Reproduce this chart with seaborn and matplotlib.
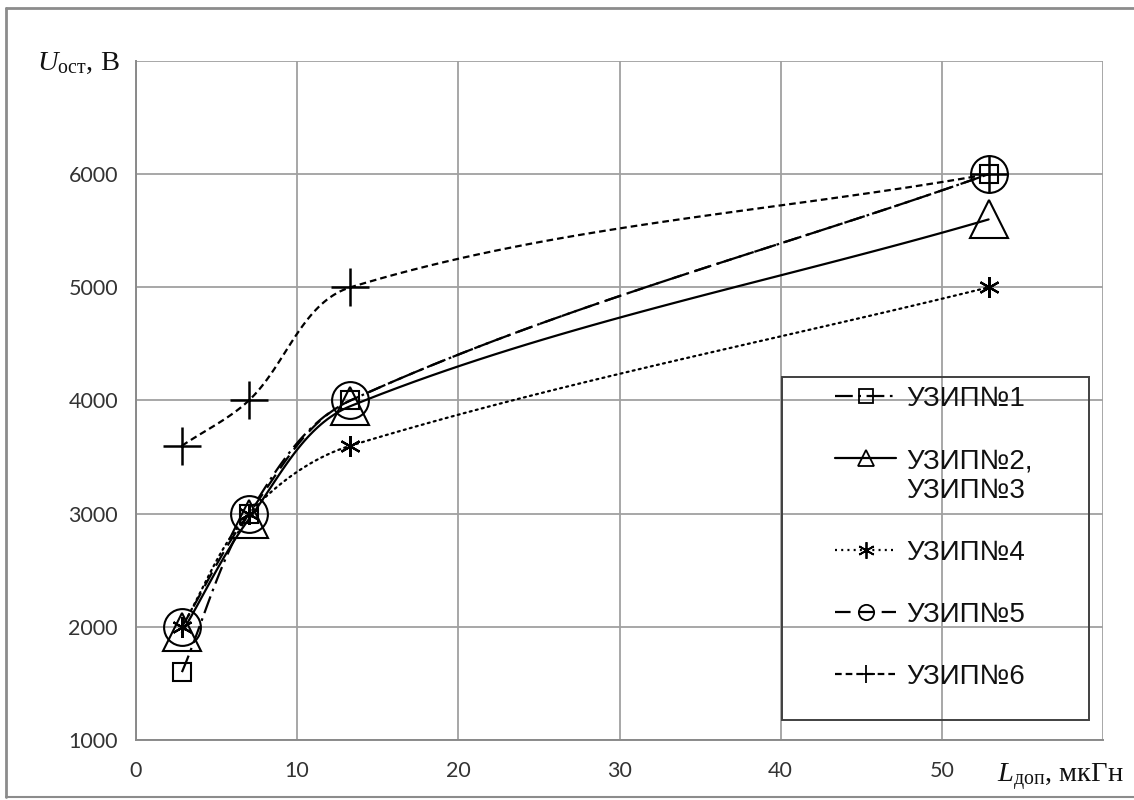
import numpy as np
import matplotlib
matplotlib.use("Agg")
import matplotlib.pyplot as plt
import seaborn as sns
from matplotlib.lines import Line2D
from matplotlib.patches import Rectangle

# ---------------- data ----------------
L_dop = [2.85, 7.0, 13.3, 52.9]          # мкГн
u_uzip1 = [1600, 3000, 4000, 6000]
u_uzip23 = [1950, 2950, 3950, 5600]
u_uzip4 = [2000, 3000, 3600, 5000]
u_uzip5 = [2000, 3000, 4000, 6000]
u_uzip6 = [3600, 4000, 5000, 6000]
labels = ["УЗИП№1", "УЗИП№2,\nУЗИП№3", "УЗИП№4", "УЗИП№5", "УЗИП№6"]
x_ticks = [0, 10, 20, 30, 40, 50, 60]
x_ticklabels = ["0", "10", "20", "30", "40", "50", ""]
y_ticks = [1000, 2000, 3000, 4000, 5000, 6000, 7000]
y_ticklabels = ["1000", "2000", "3000", "4000", "5000", "6000", ""]

# ---------------- style ----------------
sns.set_theme(style="white")
plt.rcParams["font.family"] = ["Liberation Sans", "DejaVu Sans"]
plt.rcParams["mathtext.fontset"] = "custom"
plt.rcParams["mathtext.rm"] = "Liberation Serif"
plt.rcParams["mathtext.it"] = "Liberation Serif:italic"

W, H = 1134, 800
fig = plt.figure(figsize=(W / 100, H / 100), dpi=100)
ax_l, ax_b, ax_w, ax_h = 136, 60, 967, 679
ax = fig.add_axes([ax_l / W, ax_b / H, ax_w / W, ax_h / H])
ax.set_xlim(0, 60)
ax.set_ylim(1000, 7000)

sx = ax_w / 60.0
sy = ax_h / 6000.0


def smooth(xs, ys, n=40):
    """Excel-like smoothed line through the data points (display space)."""
    P = np.column_stack([np.asarray(xs) * sx, np.asarray(ys) * sy])
    m = len(P)
    tang = []
    for i in range(m):
        if i == 0:
            d = P[1] - P[0]
        elif i == m - 1:
            d = P[-1] - P[-2]
        else:
            d = P[i + 1] - P[i - 1]
        tang.append(d / np.linalg.norm(d))
    out = [P[0]]
    t = np.linspace(0, 1, n)[1:, None]
    for i in range(m - 1):
        seg = np.linalg.norm(P[i + 1] - P[i])
        c0 = P[i]
        c1 = P[i] + tang[i] * seg / 3.0
        c2 = P[i + 1] - tang[i + 1] * seg / 3.0
        c3 = P[i + 1]
        B = ((1 - t) ** 3) * c0 + 3 * ((1 - t) ** 2) * t * c1 + 3 * (1 - t) * t ** 2 * c2 + t ** 3 * c3
        out.extend(list(B))
    out = np.array(out)
    return out[:, 0] / sx, out[:, 1] / sy


series = [
    dict(y=u_uzip1, ls=(0, (8, 2.5, 1.2, 2.5)), marker="s", ms=13.5, lms=10, mew=1.5),
    dict(y=u_uzip23, ls="-", marker="^", ms=27, lms=12, mew=1.5),
    dict(y=u_uzip4, ls=(0, (0.9, 1.9)), marker=(6, 2, 0), ms=15, lms=12, mew=1.6),
    dict(y=u_uzip5, ls=(0, (7, 3.5)), marker="o", ms=26.5, lms=11, mew=1.5),
    dict(y=u_uzip6, ls=(0, (3, 1.8)), marker="+", ms=27.5, lms=13, mew=1.8),
]

lw = 1.6
for s in series:
    xs, ys = smooth(L_dop, s["y"])
    sns.lineplot(x=xs, y=ys, ax=ax, sort=False, estimator=None, color="black",
                 linewidth=lw, linestyle=s["ls"],
                 dash_capstyle="round" if s["marker"] == (6, 2, 0) else "butt",
                 zorder=3)
for s in series:
    ax.plot(L_dop, s["y"], linestyle="none", marker=s["marker"], markersize=s["ms"],
            markerfacecolor="none", markeredgecolor="black", markeredgewidth=s["mew"],
            zorder=4, clip_on=False)

# ---------------- axes ----------------
grid_c = "#a0a0a0"
ax.set_xticks(x_ticks)
ax.set_xticklabels(x_ticklabels)
ax.set_yticks(y_ticks)
ax.set_yticklabels(y_ticklabels)
ax.grid(True, color=grid_c, linewidth=1.3)
for sp in ["top", "right"]:
    ax.spines[sp].set_visible(False)
for sp in ["left", "bottom"]:
    ax.spines[sp].set_color("#8a8a8a")
    ax.spines[sp].set_linewidth(1.4)
ax.tick_params(axis="both", direction="out", length=6, width=1.3, color="#8a8a8a",
               labelcolor="#333333", labelsize=15.5)
ax.tick_params(axis="x", pad=9)
ax.tick_params(axis="y", pad=7)
for lab in ax.get_xticklabels() + ax.get_yticklabels():
    lab.set_family(["Lato", "DejaVu Sans"])
ax.set_xlabel("")
ax.set_ylabel("")

# axis titles
fig.text(120 / W, 1 - 70 / H, r"$U_{\mathrm{ост}}$" + ", В", ha="right", va="baseline",
         fontsize=20.5, family=["Liberation Serif", "DejaVu Serif"], color="#111111")
fig.text(997 / W, 1 - 782 / H, r"$L_{\mathrm{доп}}$" + ", мкГн", ha="left", va="baseline",
         fontsize=20.5, family=["Liberation Serif", "DejaVu Serif"], color="#111111")

# ---------------- legend ----------------
handles = [Line2D([], [], color="black", linewidth=lw, linestyle=s["ls"], marker=s["marker"],
                  markersize=s["lms"], markerfacecolor="none", markeredgecolor="black",
                  markeredgewidth=1.3) for s in series]
leg = ax.legend(handles, labels, loc="upper left",
                bbox_to_anchor=((835 - ax_l) / ax_w, (740 - 386) / ax_h),
                frameon=False, borderpad=0, borderaxespad=0, fontsize=20,
                handlelength=2.2, handletextpad=0.35, labelspacing=1.3)
for t in leg.get_texts():
    t.set_color("#111111")
try:
    for hp in leg._legend_handle_box.get_children()[0].get_children():
        hp.align = "top"
except Exception:
    pass
ax.add_patch(Rectangle(((782 - ax_l) / ax_w, (740 - 720) / ax_h),
                       (1089 - 782) / ax_w, (720 - 377) / ax_h,
                       transform=ax.transAxes, fill=True, facecolor="none",
                       edgecolor="#404040", linewidth=1.4, zorder=5, clip_on=False))

# outer frame of the picture
fc = "#8c8c8c"
fig.add_artist(Line2D([6 / W, 6 / W], [1 - 797 / H, 1 - 8 / H], transform=fig.transFigure, color=fc, lw=2))
fig.add_artist(Line2D([6 / W, 1.0], [1 - 8 / H, 1 - 8 / H], transform=fig.transFigure, color=fc, lw=2))
fig.add_artist(Line2D([6 / W, 1.0], [1 - 797 / H, 1 - 797 / H], transform=fig.transFigure, color=fc, lw=1.5))

fig.savefig("out.png", dpi=100)
